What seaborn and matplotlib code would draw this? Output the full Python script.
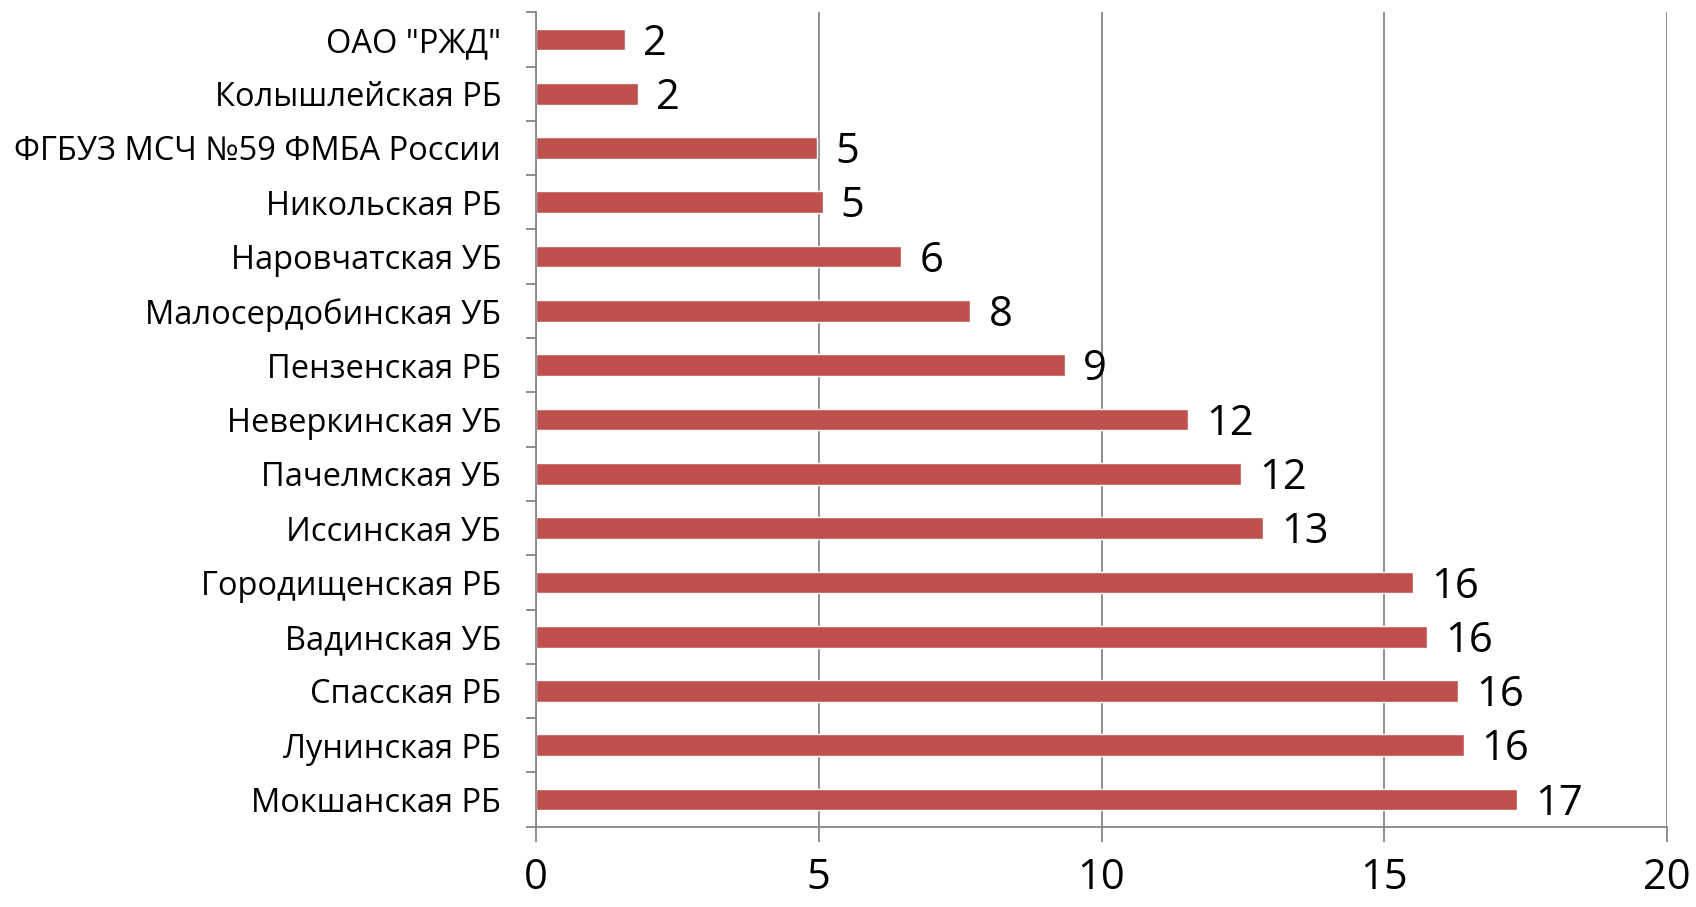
import matplotlib
matplotlib.use("Agg")
import matplotlib.pyplot as plt
import seaborn as sns
import pandas as pd

# Hospitals and their values (top to bottom)
hospitals = [
    'ОАО "РЖД"',
    "Колышлейская РБ",
    "ФГБУЗ МСЧ №59 ФМБА России",
    "Никольская РБ",
    "Наровчатская УБ",
    "Малосердобинская УБ",
    "Пензенская РБ",
    "Неверкинская УБ",
    "Пачелмская УБ",
    "Иссинская УБ",
    "Городищенская РБ",
    "Вадинская УБ",
    "Спасская РБ",
    "Лунинская РБ",
    "Мокшанская РБ",
]
values = [1.57, 1.81, 4.97, 5.07, 6.46, 7.68, 9.35, 11.53, 12.47, 12.86,
          15.51, 15.75, 16.30, 16.40, 17.34]
x_ticks = [0, 5, 10, 15, 20]

df = pd.DataFrame({"hospital": hospitals, "value": values})

sns.set_theme(style="white")
plt.rcParams["font.family"] = ["Open Sans", "DejaVu Sans"]

bar_color = "#C0504D"
axis_color = "#868686"

fig = plt.figure(figsize=(16.96, 9.07), dpi=100)
ax = fig.add_axes([0.316, 0.0885, 0.667, 0.898])

sns.barplot(data=df, y="hospital", x="value", orient="h", color=bar_color,
            width=0.4, saturation=1, ax=ax, order=hospitals)

ax.set_xlim(0, 20)
ax.set_ylim(len(hospitals) - 0.5, -0.5)
ax.set_xticks(x_ticks)
ax.set_xticklabels([str(t) for t in x_ticks], fontsize=30)
ax.set_xlabel("")
ax.set_ylabel("")

# vertical gridlines
ax.xaxis.grid(True, color=axis_color, linewidth=1.3)
ax.yaxis.grid(False)
ax.set_axisbelow(True)

# category boundary ticks on the y axis
ax.set_yticks(range(len(hospitals)))
ax.set_yticklabels(hospitals, fontsize=23.5)
ax.set_yticks([i - 0.5 for i in range(len(hospitals) + 1)], minor=True)
ax.tick_params(axis="y", which="major", length=0, pad=25, colors="black")
ax.tick_params(axis="y", which="minor", length=7, width=1.3, color=axis_color, left=True)
ax.tick_params(axis="x", which="major", length=11, width=1.3, color=axis_color,
               pad=11, bottom=True, labelcolor="black")

for side in ["top", "right"]:
    ax.spines[side].set_visible(False)
for side in ["left", "bottom"]:
    ax.spines[side].set_color(axis_color)
    ax.spines[side].set_linewidth(1.3)

# value labels
for i, v in enumerate(values):
    ax.annotate(f"{v:.0f}", xy=(v, i), xytext=(13, -3), textcoords="offset points",
                va="center", ha="left", fontsize=30, color="black")

fig.savefig("out.png", dpi=100)
